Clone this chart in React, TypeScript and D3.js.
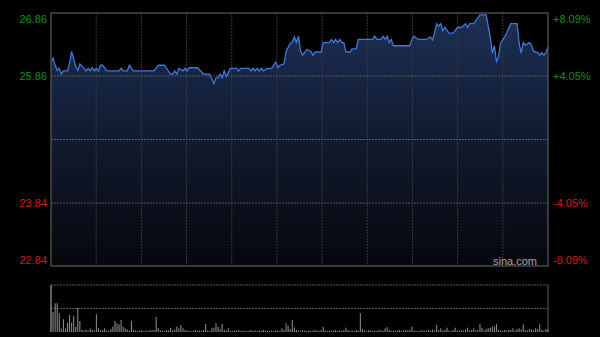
import React from "react";
import * as d3 from "d3";

const W = 600;
const H = 337;

// price keypoints (minute index 0..241, price)
const minutes = [0,1,2,3,4,5,6,8,9,10,12,13,14,16,17,18,19,20,21,22,23,24,25,27,33,34,35,37,38,39,40,50,52,55,56,58,59,60,61,62,64,65,66,67,71,74,77,79,80,81,82,83,84,85,87,90,91,92,96,97,98,99,100,101,102,103,105,107,109,110,111,113,114,116,117,118,119,120,121,122,124,126,127,128,131,132,135,136,137,138,139,140,141,142,143,145,146,148,149,156,157,158,160,161,162,163,164,165,166,174,175,176,178,182,184,185,186,187,188,189,190,191,193,195,196,197,199,201,202,203,205,206,208,211,213,214,215,216,217,218,220,223,226,227,228,229,230,232,233,234,236,237,238,239,240,241];
const prices = [26.09,26.14,26.03,25.95,25.98,25.89,25.94,25.94,26.06,26.25,26.01,25.95,26.05,25.98,25.94,25.98,25.94,25.99,25.94,25.98,25.94,26.03,26.03,25.94,25.94,25.98,25.94,25.94,26.03,25.98,25.94,25.94,26.03,26.03,25.98,25.89,25.89,25.94,25.89,25.98,25.94,25.98,25.94,25.99,25.99,25.89,25.89,25.74,25.83,25.83,25.89,25.83,25.94,25.85,25.98,25.98,25.94,25.98,25.98,25.94,25.98,25.94,25.98,25.94,25.98,25.94,25.98,25.98,26.08,25.99,26.03,26.05,26.25,26.38,26.39,26.48,26.39,26.49,26.26,26.19,26.28,26.25,26.19,26.24,26.24,26.39,26.39,26.44,26.39,26.44,26.39,26.44,26.39,26.39,26.24,26.24,26.29,26.29,26.44,26.44,26.49,26.44,26.44,26.49,26.44,26.49,26.39,26.44,26.34,26.34,26.44,26.49,26.44,26.44,26.48,26.43,26.54,26.69,26.65,26.69,26.58,26.63,26.54,26.54,26.58,26.63,26.63,26.69,26.63,26.69,26.69,26.74,26.83,26.83,26.48,26.22,26.34,26.09,26.16,26.38,26.48,26.69,26.69,26.38,26.22,26.39,26.35,26.39,26.35,26.25,26.23,26.19,26.23,26.19,26.23,26.32];

// volume per minute (hundreds of shares)
const volumes = [
  4700,2000,2870,2870,1870,350,1270,350,930,1700,
  930,1600,530,2430,1100,200,150,250,150,370,
  200,150,1770,370,150,200,370,150,120,300,
  530,1100,870,770,1200,530,370,250,150,1100,
  200,150,120,150,200,100,150,120,200,150,
  200,1500,370,150,120,100,200,150,430,150,
  250,530,370,700,370,200,150,120,100,150,
  200,100,150,120,200,800,150,120,370,430,
  870,530,300,800,200,150,370,120,100,150,
  120,200,100,150,120,100,150,200,120,150,
  100,150,120,200,150,120,100,150,120,200,
  150,120,370,200,870,600,300,1200,450,200,
  150,120,200,150,100,150,120,150,200,150,
  120,200,530,150,120,150,100,150,200,120,
  150,120,200,430,200,120,150,100,200,150,
  1870,300,150,120,200,150,100,150,120,200,
  150,120,370,470,200,120,150,100,150,200,
  120,150,200,150,200,530,150,120,100,150,
  200,150,120,200,150,250,150,700,200,370,
  150,200,430,150,120,200,430,150,120,200,
  150,250,430,150,200,370,150,200,800,430,
  150,300,370,430,530,550,800,200,150,120,
  200,150,250,200,370,150,300,370,250,770,
  200,150,300,250,150,370,300,770,200,150,
  300,250
];

const priceTicks = [26.86, 25.86, 24.85, 23.84, 22.84];
const priceLabels = ["26.86", "25.86", "", "23.84", "22.84"];
const pctLabels = ["+8.09%", "+4.05%", "", "-4.05%", "-8.09%"];
const verticalGrid = [1, 2, 3, 4, 5, 6, 7, 8, 9, 10];

const L = 51, R = 548, T = 13, B = 266;
const VT = 285, VB = 332;

export default function App() {
  const x = d3.scaleLinear().domain([0, 241]).range([L, R]);
  const y = d3.scaleLinear().domain([22.84, 26.86]).range([B, T]);
  const gx = d3.scaleLinear().domain([0, 11]).range([L, R]);
  const vy = d3.scaleLinear().domain([0, 4700]).range([VB, VT]);

  const pts = minutes.map((m, i) => [m, prices[i]] as [number, number]);
  const line = d3.line<[number, number]>().x(d => x(d[0])).y(d => y(d[1]));
  const area = d3.area<[number, number]>().x(d => x(d[0])).y0(B).y1(d => y(d[1]));

  const font = "Arial, 'Liberation Sans', sans-serif";

  return (
    <svg width={W} height={H} style={{ position: "absolute", left: 0, top: 0, background: "#000" }}>
      <defs>
        <linearGradient id="ag" gradientUnits="userSpaceOnUse" x1="0" y1={T} x2="0" y2={B}>
          <stop offset="0%" stopColor="#1d2f55" />
          <stop offset="100%" stopColor="#05070b" />
        </linearGradient>
      </defs>
      <rect x={0} y={0} width={W} height={H} fill="#000" />
      <path d={area(pts) || ""} fill="url(#ag)" />
      {verticalGrid.map(g => (
        <line key={g} x1={gx(g)} x2={gx(g)} y1={T} y2={B} stroke="#383838" strokeDasharray="2,1" />
      ))}
      {priceTicks.map((p, i) =>
        i === 0 || i === 4 ? null : (
          <line key={p} x1={L} x2={R} y1={y(p)} y2={y(p)}
            stroke={i === 2 ? "#4f5f72" : "#565656"} strokeDasharray="2,1" />
        )
      )}
      <path d={line(pts) || ""} fill="none" stroke="#3f78d8" strokeWidth={1.3} />
      <rect x={L} y={T} width={R - L} height={B - T} fill="none" stroke="#5a5a5a" strokeWidth={1.2} />
      {priceTicks.map((p, i) => {
        if (!priceLabels[i]) return null;
        let ty = y(p) + 4;
        if (i === 0) ty = y(p) + 10;
        if (i === 4) ty = y(p) - 2;
        const col = i < 2 ? "#0c900c" : "#d41a16";
        return (
          <g key={"l" + p}>
            <text x={47} y={ty} textAnchor="end" fontFamily={font} fontSize={11} fill={col}>{priceLabels[i]}</text>
            <text x={553} y={ty} textAnchor="start" fontFamily={font} fontSize={11} fill={col}>{pctLabels[i]}</text>
          </g>
        );
      })}
      <text x={537} y={265} textAnchor="end" fontFamily={font} fontSize={11} fill="#a8a8a8">sina.com</text>

      {/* volume panel */}
      <line x1={L} x2={R} y1={VT} y2={VT} stroke="#5a5a5a" strokeDasharray="2,1" />
      <line x1={L} x2={R} y1={vy(2350)} y2={vy(2350)} stroke="#5a5a5a" strokeDasharray="2,1" />
      <line x1={L} x2={L} y1={VT} y2={VB} stroke="#5a5a5a" />
      <line x1={R} x2={R} y1={VT} y2={VB} stroke="#5a5a5a" />
      {volumes.map((v, i) => (
        <rect key={i} x={x(i) - 0.5} y={vy(v)} width={1} height={VB - vy(v)} fill="#939393" />
      ))}
    </svg>
  );
}
